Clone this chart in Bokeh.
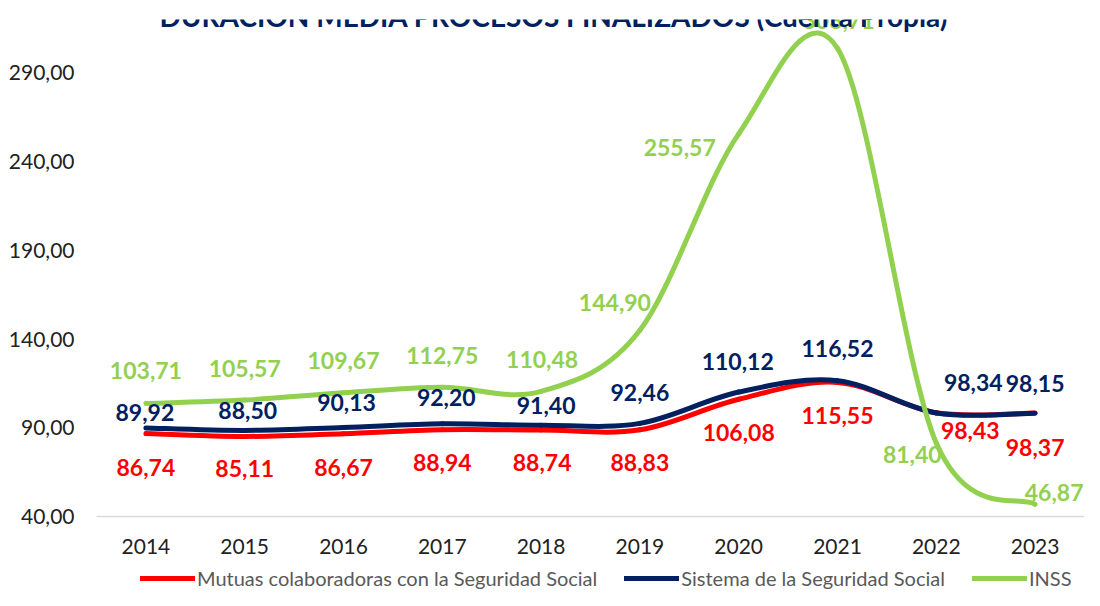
import numpy as np
from bokeh.plotting import figure
from bokeh.layouts import column
from bokeh.models import FixedTicker, Legend, LegendItem, Label, ColumnDataSource, Range1d
from bokeh.core.properties import value
from bokeh.embed import file_html
from bokeh.resources import INLINE

# ---- data ----
years = ["2014", "2015", "2016", "2017", "2018", "2019", "2020", "2021", "2022", "2023"]
mutuas = [86.74, 85.11, 86.67, 88.94, 88.74, 88.83, 106.08, 115.55, 98.43, 98.37]
sistema = [89.92, 88.50, 90.13, 92.20, 91.40, 92.46, 110.12, 116.52, 98.34, 98.15]
inss = [103.71, 105.57, 109.67, 112.75, 110.48, 144.90, 255.57, 303.71, 81.40, 46.87]
series_names = ["Mutuas colaboradoras con la Seguridad Social", "Sistema de la Seguridad Social", "INSS"]
y_ticks = [40, 90, 140, 190, 240, 290]
title_text = "DURACIÓN MEDIA PROCESOS FINALIZADOS (Cuenta Propia)"

# ---- styles ----
colors = ["#FF0000", "#002060", "#92D050"]
# label offsets in screen px (dx, dy with dy positive = down)
off_mutuas = [(0, 34), (0, 32), (0, 34), (0, 33), (1, 33), (0, 33), (0, 33), (0, 33), (34, 18), (0, 35)]
off_sistema = [(-1, -15), (3, -20), (3, -25), (4, -26), (5, -20), (0, -31), (-1, -31), (0, -32), (37, -30), (0, -30)]
off_inss = [(0, -33), (0, -32), (0, -32), (0, -32), (1, -32), (-25, -28), (-59, 14), (1, -28), (-24, 11), (19, -12)]

FONT = "Lato"

p = figure(frame_width=988, frame_height=497, output_backend="svg", toolbar_location=None,
           x_range=(-0.5, len(years) - 0.5), y_range=(40, 320),
           min_border_left=96, min_border_right=0, min_border_top=19, min_border_bottom=50)
p.outline_line_color = None
p.xgrid.grid_line_color = None
p.ygrid.grid_line_color = None
p.background_fill_color = "white"
p.border_fill_color = "white"

# axes
p.yaxis.ticker = FixedTicker(ticks=y_ticks)
p.yaxis.major_label_overrides = {t: f"{t:.2f}".replace(".", ",") for t in y_ticks}
p.yaxis.axis_line_color = None
p.yaxis.major_tick_line_color = None
p.yaxis.minor_tick_line_color = None
p.yaxis.major_tick_out = 0
p.yaxis.major_tick_in = 0
p.yaxis.major_label_standoff = 22
p.yaxis.major_label_text_font = FONT
p.yaxis.major_label_text_font_size = "21px"
p.yaxis.major_label_text_color = "#222222"

xs = list(range(len(years)))
p.xaxis.ticker = FixedTicker(ticks=xs)
p.xaxis.major_label_overrides = {i: y for i, y in enumerate(years)}
p.xaxis.axis_line_color = "#D9D9D9"
p.xaxis.axis_line_width = 1.5
p.xaxis.major_tick_line_color = None
p.xaxis.minor_tick_line_color = None
p.xaxis.major_tick_out = 0
p.xaxis.major_tick_in = 0
p.xaxis.major_label_standoff = 22
p.xaxis.major_label_text_font = FONT
p.xaxis.major_label_text_font_size = "21px"
p.xaxis.major_label_text_color = "#222222"


def smooth_segments(vals):
    x = np.array(xs, dtype=float)
    y = np.array(vals, dtype=float)
    n = len(y)
    tx = np.empty(n)
    ty = np.empty(n)
    for i in range(n):
        a = max(i - 1, 0)
        b = min(i + 1, n - 1)
        tx[i] = (x[b] - x[a]) / 2
        ty[i] = (y[b] - y[a]) / 2
    return dict(
        x0=x[:-1], y0=y[:-1], x1=x[1:], y1=y[1:],
        cx0=x[:-1] + tx[:-1] / 3, cy0=y[:-1] + ty[:-1] / 3,
        cx1=x[1:] - tx[1:] / 3, cy1=y[1:] - ty[1:] / 3,
    )


all_series = [mutuas, sistema, inss]
all_offs = [off_mutuas, off_sistema, off_inss]
for vals, col in zip(all_series, colors):
    src = ColumnDataSource(smooth_segments(vals))
    p.bezier(x0="x0", y0="y0", x1="x1", y1="y1", cx0="cx0", cy0="cy0", cx1="cx1", cy1="cy1",
             source=src, line_color=col, line_width=5, line_cap="round")

for vals, col, offs in zip(all_series, colors, all_offs):
    lsrc = ColumnDataSource(dict(
        x=xs, y=vals,
        t=[f"{v:.2f}".replace(".", ",") for v in vals],
        dx=[o[0] for o in offs], dy=[o[1] for o in offs],
    ))
    p.text(x="x", y="y", text="t", source=lsrc, x_offset="dx", y_offset="dy",
           text_color=col, text_font=value(FONT), text_font_style="bold",
           text_font_size="23px", text_align="center", text_baseline="middle")

title = Label(x=4.13, y=322, text=title_text, text_align="center", text_baseline="alphabetic",
              text_font=FONT, text_font_style="bold", text_font_size="28px", text_color="#002060")
p.add_layout(title)

# ---- legend strip (separate figure below the chart, frames aligned by the column) ----
lg = figure(width=1084, height=24, output_backend="svg", toolbar_location=None,
            x_range=Range1d(0, 1), y_range=Range1d(0, 1), x_axis_type=None, y_axis_type=None,
            min_border_left=0, min_border_right=0, min_border_top=0, min_border_bottom=0)
lg.outline_line_color = None
lg.xgrid.grid_line_color = None
lg.ygrid.grid_line_color = None
items = []
for col, name in zip(colors, series_names):
    r = lg.line(x=[-5, -4], y=[-5, -5], line_color=col, line_width=5, line_cap="round")
    items.append(LegendItem(label=name, renderers=[r]))
legend = Legend(items=items, orientation="horizontal", location=(44, 0),
                glyph_width=55, glyph_height=20, label_standoff=2, spacing=27,
                label_text_font=FONT, label_text_font_size="20px", label_text_color="#595959",
                label_height=20, border_line_color=None, background_fill_alpha=0,
                padding=0, margin=0)
lg.add_layout(legend, "center")

layout = column(p, lg, spacing=0)
open("out.html", "w").write(file_html(layout, INLINE))
